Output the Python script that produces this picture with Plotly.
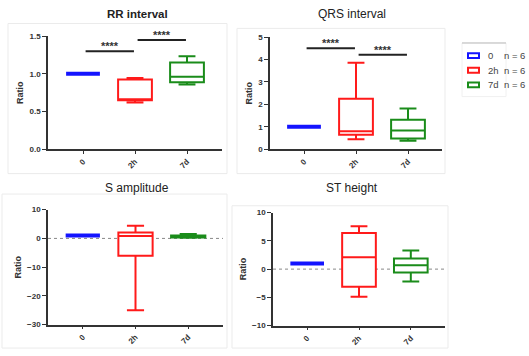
import plotly.graph_objects as go

# ---------------- data ----------------
groups = ["0", "2h", "7d"]
n_per_group = [6, 6, 6]
colors = ["#1414ff", "#ff1a1a", "#1a8c1a"]
titles = ["RR interval", "QRS interval", "S amplitude", "ST height"]

rr_min = [1.0, 0.62, 0.86]
rr_q1 = [1.0, 0.65, 0.89]
rr_med = [1.0, 0.66, 0.96]
rr_q3 = [1.0, 0.925, 1.15]
rr_max = [1.0, 0.945, 1.235]

qrs_min = [1.0, 0.45, 0.38]
qrs_q1 = [1.0, 0.65, 0.48]
qrs_med = [1.0, 0.80, 0.84]
qrs_q3 = [1.0, 2.25, 1.31]
qrs_max = [1.0, 3.86, 1.82]

s_min = [1.0, -25.0, 0.2]
s_q1 = [1.0, -6.0, 0.3]
s_med = [1.0, 0.8, 0.6]
s_q3 = [1.0, 2.1, 1.0]
s_max = [1.0, 4.4, 1.5]

st_min = [1.0, -4.9, -2.2]
st_q1 = [1.0, -3.1, -0.6]
st_med = [1.0, 2.1, 0.7]
st_q3 = [1.0, 6.4, 1.9]
st_max = [1.0, 7.6, 3.3]

rr_sig = [("0", "2h", 1.30), ("2h", "7d", 1.45)]
qrs_sig = [("0", "2h", 4.50), ("2h", "7d", 4.22)]
sig_label = "****"

y_ranges = [[0, 1.5], [0, 5], [-30, 10], [-10, 10]]
y_dticks = [0.5, 1, 10, 5]
y_formats = [".1f", "d", "d", "d"]

# ---------------- layout helpers ----------------
W, H = 529, 356
def px(x):
    return x / W
def py(y):
    return 1 - y / H

panels = [
    dict(stats=(rr_min, rr_q1, rr_med, rr_q3, rr_max), sig=rr_sig, zero=False,
         xd=(48, 222), yd=(149, 33), xr=[-0.673, 2.673], title_xy=(137, 10), bold=True),
    dict(stats=(qrs_min, qrs_q1, qrs_med, qrs_q3, qrs_max), sig=qrs_sig, zero=False,
         xd=(270, 442), yd=(149, 34), xr=[-0.654, 2.654], title_xy=(352, 10), bold=False),
    dict(stats=(s_min, s_q1, s_med, s_q3, s_max), sig=[], zero=True,
         xd=(48, 223), yd=(329, 211), xr=[-0.66, 2.66], title_xy=(137, 189), bold=False),
    dict(stats=(st_min, st_q1, st_med, st_q3, st_max), sig=[], zero=True,
         xd=(273, 445), yd=(330, 214), xr=[-0.66, 2.66], title_xy=(352, 189), bold=False),
]

FONT = "Liberation Sans, Arial, sans-serif"
fig = go.Figure()
shapes = []
annotations = []

# faint panel frames
frames = [(8, 20, 227, 174), (237, 25, 445, 174), (2, 195, 227, 353), (232, 207, 448, 353)]
for (x0, y0, x1, y1) in frames:
    shapes.append(dict(type="rect", xref="paper", yref="paper",
                       x0=px(x0), x1=px(x1), y0=py(y1), y1=py(y0),
                       line=dict(color="#ebebeb", width=1), layer="below"))

for k, p in enumerate(panels):
    ax = "" if k == 0 else str(k + 1)
    xa, ya = "x" + ax, "y" + ax
    mn, q1, md, q3, mx = p["stats"]
    for i, g in enumerate(groups):
        fig.add_trace(go.Box(
            x=[g], q1=[q1[i]], median=[md[i]], q3=[q3[i]],
            lowerfence=[mn[i]], upperfence=[mx[i]],
            xaxis=xa, yaxis=ya, width=0.65, whiskerwidth=0.5,
            line=dict(color=colors[i], width=4 if i == 0 else 2),
            fillcolor="white", boxpoints=False, showlegend=False,
            hoverinfo="skip",
        ))
    lay_x = dict(domain=[px(p["xd"][0]), px(p["xd"][1])], range=p["xr"],
                 type="category", categoryorder="array", categoryarray=groups,
                 showline=True, linecolor="#333", linewidth=1.5,
                 ticks="outside", ticklen=3, tickwidth=1.2, tickcolor="#333",
                 tickangle=-45, showgrid=False, zeroline=False,
                 tickfont=dict(family=FONT, size=8, color="#333", weight="bold"),
                 anchor=ya, fixedrange=True)
    lay_y = dict(domain=[py(p["yd"][0]), py(p["yd"][1])], range=y_ranges[k],
                 dtick=y_dticks[k], tick0=0, tickformat=y_formats[k],
                 showline=True, linecolor="#333", linewidth=1.5,
                 ticks="outside", ticklen=4, tickwidth=1.2, tickcolor="#333",
                 showgrid=False, zeroline=False,
                 tickfont=dict(family=FONT, size=8, color="#333", weight="bold"),
                 title=dict(text="Ratio", standoff=4,
                            font=dict(family=FONT, size=9, color="#333", weight="bold")),
                 anchor=xa, fixedrange=True)
    fig.update_layout(**{"xaxis" + ax: lay_x, "yaxis" + ax: lay_y})

    # title
    tx, ty = p["title_xy"]
    annotations.append(dict(text=titles[k], xref="paper", yref="paper",
                            x=px(tx), y=py(ty), showarrow=False,
                            xanchor="center", yanchor="middle",
                            font=dict(family=FONT, size=11.5 if p["bold"] else 12,
                                      color="#222", weight="bold" if p["bold"] else "normal")))

    # dotted zero line
    if p["zero"]:
        shapes.append(dict(type="line", xref=xa + " domain", yref=ya,
                           x0=0, x1=1, y0=0, y1=0,
                           line=dict(color="#888", width=1, dash="dot"), layer="below"))

    # significance bars
    for (g0, g1, yv) in p["sig"]:
        i0, i1 = groups.index(g0), groups.index(g1)
        shapes.append(dict(type="line", xref=xa, yref=ya,
                           x0=i0 + 0.05, x1=i1 - 0.02, y0=yv, y1=yv,
                           line=dict(color="#222", width=2)))
        annotations.append(dict(text=sig_label, xref=xa, yref=ya,
                                x=(i0 + i1) / 2 + 0.02, y=yv, showarrow=False,
                                xanchor="center", yanchor="bottom", yshift=-3,
                                font=dict(family=FONT, size=11, color="#333", weight="bold")))

# manual legend
shapes.append(dict(type="rect", xref="paper", yref="paper",
                   x0=px(462), x1=px(506), y0=py(95), y1=py(40),
                   line=dict(color="#f0f0f0", width=1), layer="below"))
shapes.append(dict(type="line", xref="paper", yref="paper",
                   x0=px(462), x1=px(506), y0=py(40), y1=py(40),
                   line=dict(color="#bbbbbb", width=1)))
for i, g in enumerate(groups):
    yc = 53 + 15 * i
    shapes.append(dict(type="rect", xref="paper", yref="paper",
                       x0=px(468), x1=px(479), y0=py(yc + 2.5), y1=py(yc - 2.5),
                       line=dict(color=colors[i], width=2), fillcolor="white"))
    annotations.append(dict(text=g, xref="paper", yref="paper", x=px(486), y=py(yc),
                            showarrow=False, xanchor="left", yanchor="middle",
                            font=dict(family=FONT, size=9.5, color="#444")))
    annotations.append(dict(text="n = %d" % n_per_group[i], xref="paper", yref="paper",
                            x=px(502), y=py(yc), showarrow=False, xanchor="left",
                            yanchor="middle",
                            font=dict(family=FONT, size=9.5, color="#444")))

fig.update_layout(width=W, height=H, margin=dict(l=0, r=0, t=0, b=0),
                  paper_bgcolor="white", plot_bgcolor="white",
                  boxmode="overlay", showlegend=False,
                  shapes=shapes, annotations=annotations)

fig.write_html("out.html", config={"displayModeBar": False},
               post_script="document.body.style.margin='0';")
